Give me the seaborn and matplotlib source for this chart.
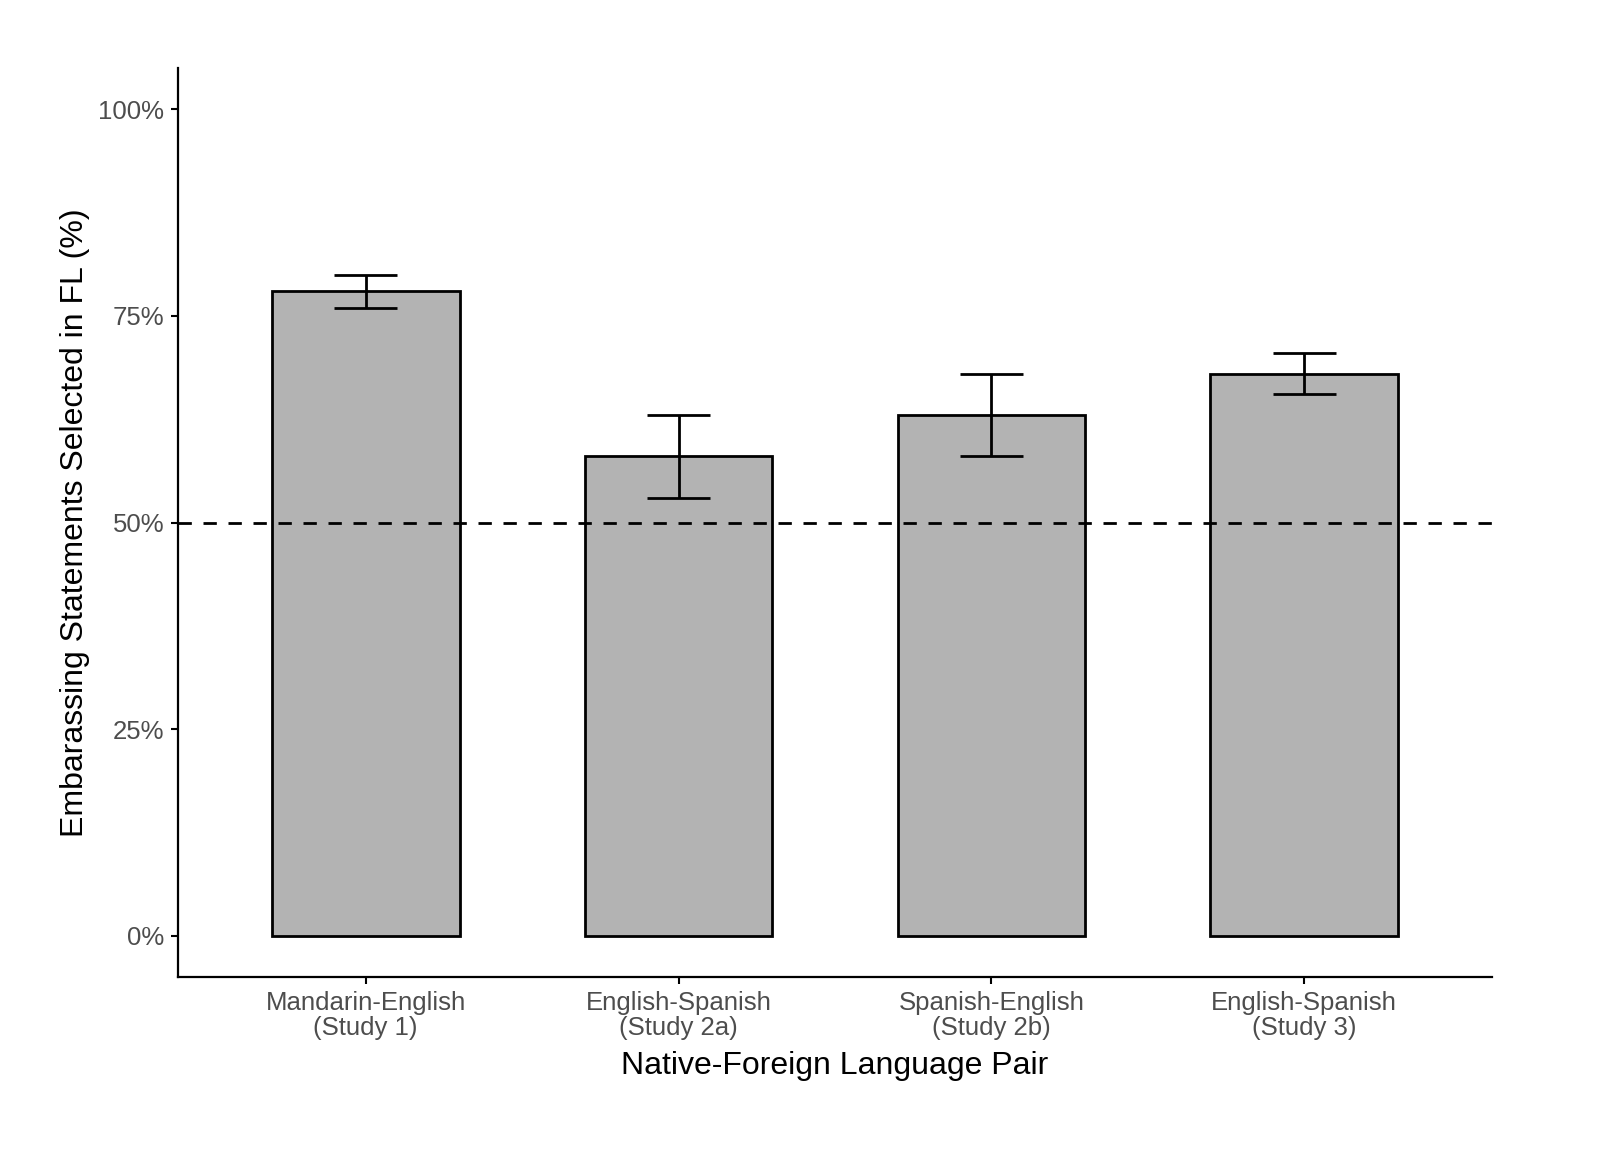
import numpy as np
import pandas as pd
import matplotlib
matplotlib.use("Agg")
import matplotlib.pyplot as plt
import seaborn as sns
from matplotlib.ticker import FuncFormatter

# data
pairs = ["Mandarin-English\n(Study 1)", "English-Spanish\n(Study 2a)",
         "Spanish-English\n(Study 2b)", "English-Spanish\n(Study 3)"]
pct = [78.0, 58.0, 63.0, 68.0]
ci_low = [76.0, 53.0, 58.0, 65.5]
ci_high = [80.0, 63.0, 68.0, 70.5]

df = pd.DataFrame({"pair": pairs, "pct": pct, "lo": ci_low, "hi": ci_high})

sns.set_theme(style="ticks")
plt.rcParams["font.family"] = ["Liberation Sans", "DejaVu Sans"]

fig = plt.figure(figsize=(16, 11.56), dpi=100)
ax = fig.add_axes([0.11125, 0.1548, 0.82125, 0.7864])

sns.barplot(data=df, x="pair", y="pct", color="#B3B3B3", saturation=1,
            edgecolor="black", linewidth=2, width=0.6, errorbar=None, ax=ax)

# error bars (ggplot-style, width 0.2)
xs = np.arange(len(df))
ax.vlines(xs, df["lo"], df["hi"], color="black", linewidth=2, zorder=3)
ax.hlines(df["lo"], xs - 0.1, xs + 0.1, color="black", linewidth=2, zorder=3)
ax.hlines(df["hi"], xs - 0.1, xs + 0.1, color="black", linewidth=2, zorder=3)

ax.axhline(50, color="black", linestyle=(0, (4.8, 4.2)), linewidth=2, zorder=4)

ax.set_xlim(-0.6, 3.6)
ax.set_ylim(-5, 105)
ax.set_yticks([0, 25, 50, 75, 100])
ax.yaxis.set_major_formatter(FuncFormatter(lambda v, p: f"{v:.0f}%"))

ax.set_xlabel("Native-Foreign Language Pair", fontsize=23, color="black", labelpad=8)
ax.set_ylabel("Embarassing Statements Selected in FL (%)", fontsize=23,
              color="black", labelpad=6)
ax.tick_params(axis="both", labelsize=18.5, labelcolor="#4D4D4D", color="black",
               width=1.5, length=5, pad=5)
for lab in ax.get_xticklabels():
    lab.set_linespacing(1.05)

sns.despine(ax=ax)
for s in ["left", "bottom"]:
    ax.spines[s].set_linewidth(1.6)
    ax.spines[s].set_color("black")

fig.savefig("out.png", dpi=100, facecolor="white")
